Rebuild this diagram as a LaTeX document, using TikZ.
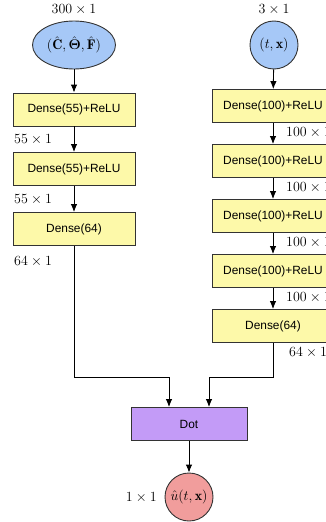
\RequirePackage{fix-cm}
\documentclass[tikz,border=0pt]{standalone}
\usepackage{amsmath,bm}
\usepackage{fontspec}
\newfontfamily\boxfont{Liberation Sans}
\usetikzlibrary{arrows.meta,shapes.geometric,calc}

\definecolor{inblue}{HTML}{A6C8F7}
\definecolor{layeryellow}{HTML}{FDF9A9}
\definecolor{dotpurple}{HTML}{C39BF7}
\definecolor{outpink}{HTML}{F19D9C}
\definecolor{edgegray}{HTML}{333333}

\tikzset{
  layer/.style={draw=edgegray, line width=0.9pt, fill=layeryellow,
    minimum width=122pt, minimum height=33pt, inner sep=0pt,
    font=\boxfont\fontsize{11.9}{14}\selectfont},
  dotbox/.style={layer, fill=dotpurple, minimum width=116pt},
  inputnode/.style={draw=edgegray, line width=0.9pt, fill=inblue, inner sep=0pt,
    font=\fontsize{14}{17}\selectfont},
  dimlabel/.style={inner sep=0pt, font=\fontsize{14}{17}\selectfont},
  conn/.style={draw=black, line width=0.9pt, -{Latex[length=8pt,width=6.5pt]}},
  wire/.style={draw=black, line width=0.9pt}
}

\begin{document}
\begin{tikzpicture}[x=1pt, y=-1pt]
  \useasboundingbox (0,0) rectangle (326,522);

  % branch fed by the coefficient vector
  \node[inputnode, ellipse, minimum width=83pt, minimum height=48pt] (inA) at (74,45)
    {$(\hat{\mathbf{C}},\hat{\bm{\Theta}},\hat{\mathbf{F}})$};
  \node[dimlabel] (dA0) at (74,10) {$300\times1$};
  \node[layer] (a1) at (74,109.5) {Dense(55)+ReLU};
  \node[layer] (a2) at (74,169) {Dense(55)+ReLU};
  \node[layer] (a3) at (74,229) {Dense(64)};
  \node[dimlabel, anchor=west] (dA1) at (14,140) {$55\times1$};
  \node[dimlabel, anchor=west] (dA2) at (14,200) {$55\times1$};
  \node[dimlabel, anchor=west] (dA3) at (14,262) {$64\times1$};

  % branch fed by the coordinates
  \node[inputnode, circle, minimum size=48pt] (inB) at (274,45) {$(t,\mathbf{x})$};
  \node[dimlabel] (dB0) at (274,10) {$3\times1$};
  \node[layer] (b1) at (273,106) {Dense(100)+ReLU};
  \node[layer] (b2) at (273,161) {Dense(100)+ReLU};
  \node[layer] (b3) at (273,216) {Dense(100)+ReLU};
  \node[layer] (b4) at (273,271) {Dense(100)+ReLU};
  \node[layer] (b5) at (273,326) {Dense(64)};
  \node[dimlabel, anchor=west] (dB1) at (286,133) {$100\times1$};
  \node[dimlabel, anchor=west] (dB2) at (286,188) {$100\times1$};
  \node[dimlabel, anchor=west] (dB3) at (286,243) {$100\times1$};
  \node[dimlabel, anchor=west] (dB4) at (286,298) {$100\times1$};
  \node[dimlabel, anchor=west] (dB5) at (289,353) {$64\times1$};

  % merge and output
  \node[dotbox] (dot) at (189,424) {Dot};
  \node[inputnode, circle, fill=outpink, minimum size=48pt] (out) at (189,497) {$\hat{u}(t,\mathbf{x})$};
  \node[dimlabel, anchor=east] (dOut) at (157,498) {$1\times1$};

  \coordinate (jA) at (74,377);
  \coordinate (jB) at (273,377);
  \coordinate (dotA) at ($(dot.north)+(-20,0)$);
  \coordinate (dotB) at ($(dot.north)+(20,0)$);

  % connectors
  \draw[conn] (inA) -- (a1);
  \draw[conn] (a1) -- (a2);
  \draw[conn] (a2) -- (a3);
  \draw[conn] (inB) -- (b1);
  \draw[conn] (b1) -- (b2);
  \draw[conn] (b2) -- (b3);
  \draw[conn] (b3) -- (b4);
  \draw[conn] (b4) -- (b5);
  \draw[conn] (a3.south) -- (jA) -| (dotA);
  \draw[conn] (b5.south) -- (jB) -| (dotB);
  \draw[conn] (dot) -- (out);
\end{tikzpicture}
\end{document}
